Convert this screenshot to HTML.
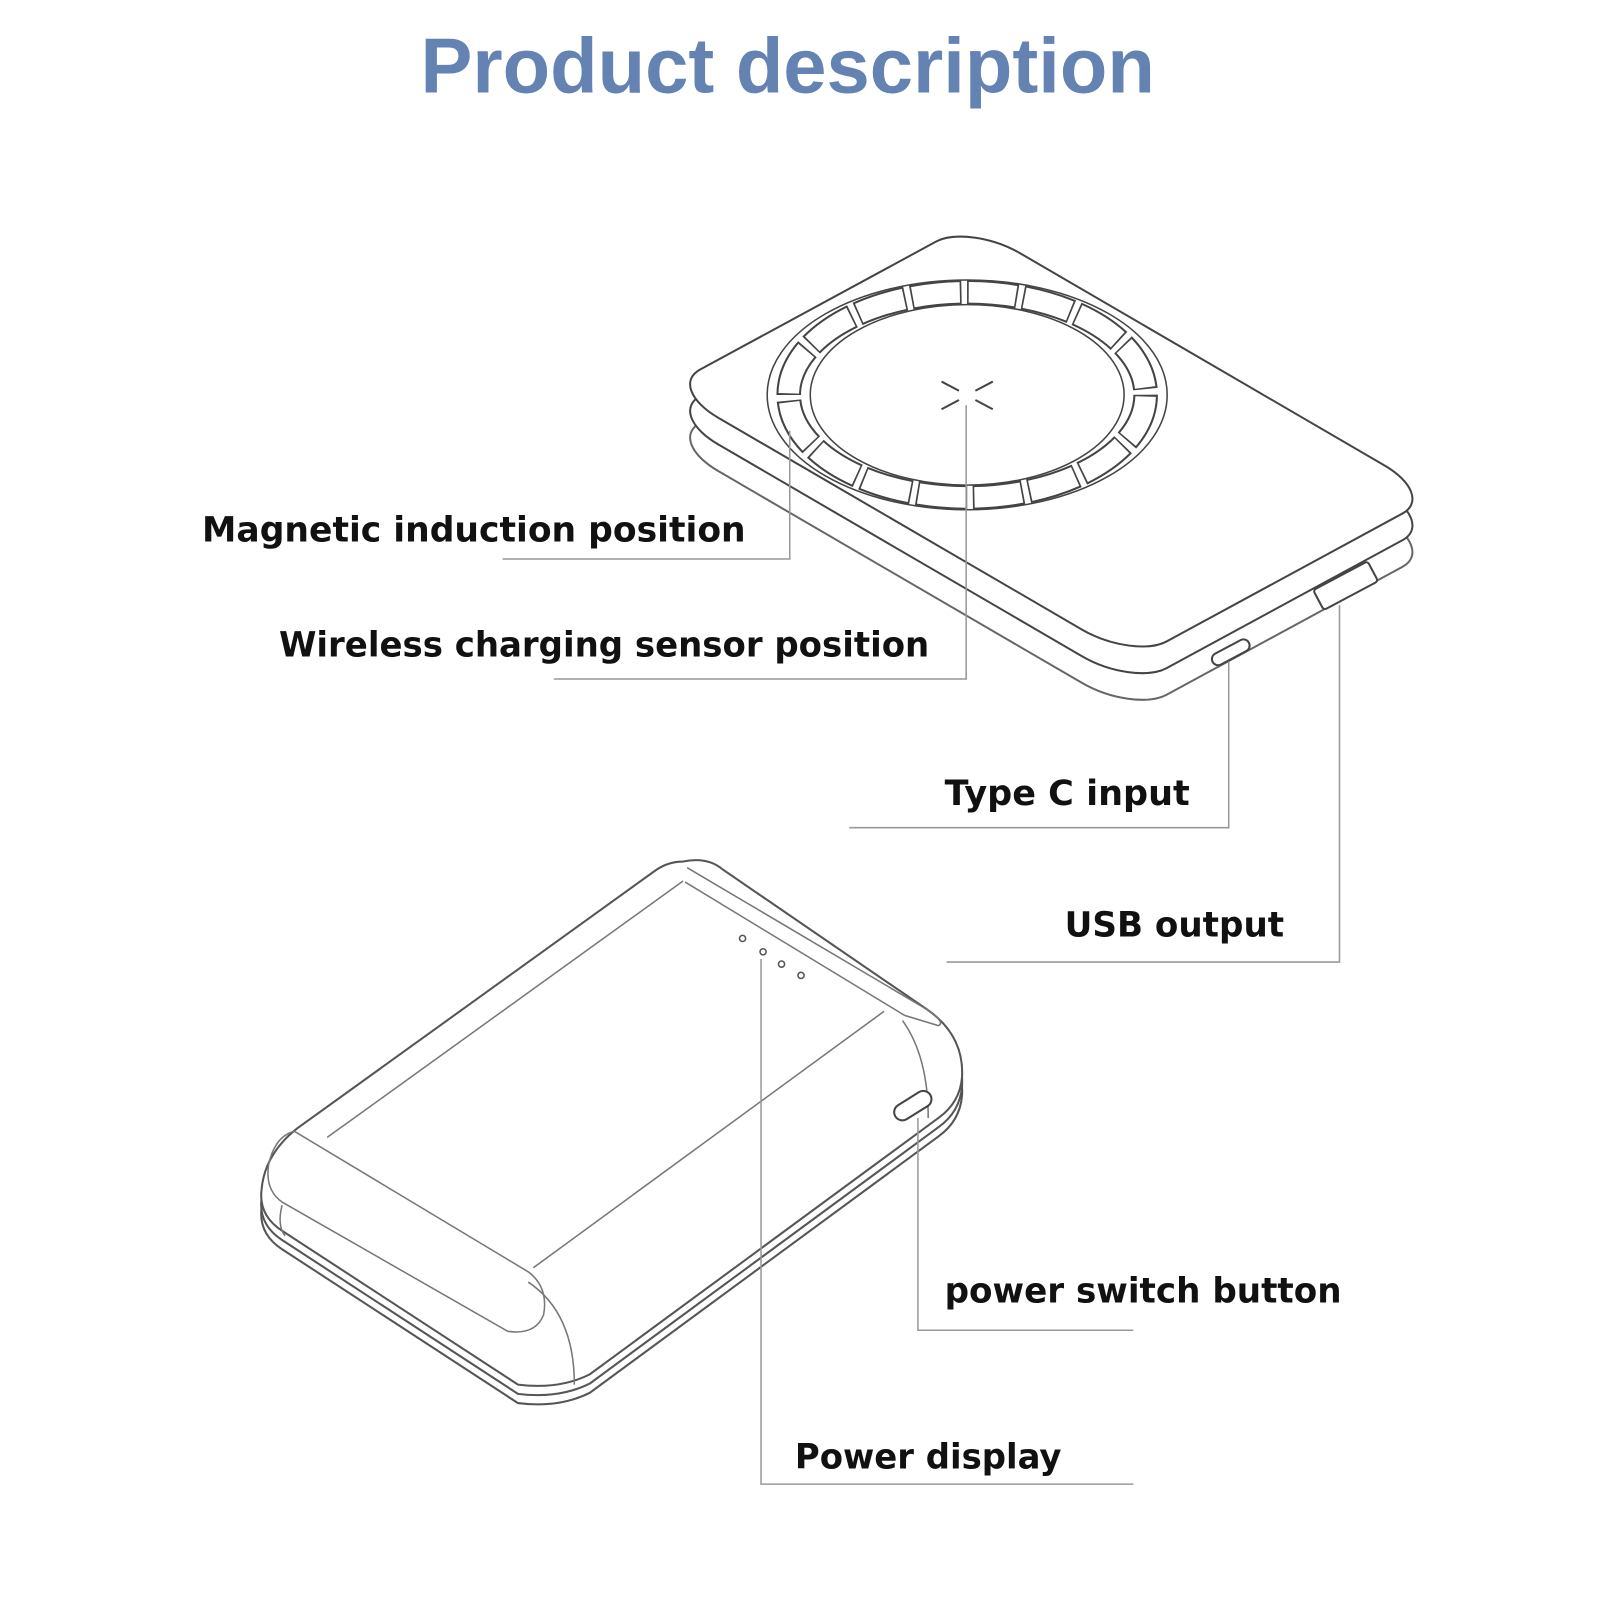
<!DOCTYPE html>
<html><head><meta charset="utf-8"><style>
html,body{margin:0;padding:0;background:#fff;}
svg{display:block;}
.l{font-family:"DejaVu Sans","Liberation Sans",sans-serif;font-size:34px;fill:#111;font-weight:bold;}
</style></head><body>
<svg width="1600" height="1600" viewBox="0 0 1560 1560" xmlns="http://www.w3.org/2000/svg">
<text x="768" y="90" text-anchor="middle" font-family="Liberation Sans, sans-serif" font-weight="bold" font-size="76" fill="#6482b2" textLength="716" lengthAdjust="spacingAndGlyphs">Product description</text>

<!-- device 1 -->
<g fill="#fff" stroke="#444" stroke-width="2">
<rect x="0" y="0" width="100" height="100" rx="11" vector-effect="non-scaling-stroke" transform="matrix(4.55,2.65,2.95,-1.6,650,430)" stroke="#666"/>
<rect x="0" y="0" width="100" height="100" rx="11" vector-effect="non-scaling-stroke" transform="matrix(4.55,2.65,2.95,-1.6,650,404)"/>
<rect x="0" y="0" width="100" height="100" rx="11" vector-effect="non-scaling-stroke" transform="matrix(4.55,2.65,2.95,-1.6,650,378)"/>
</g>
<ellipse cx="943" cy="385" rx="174" ry="100" fill="none" stroke="#444" stroke-width="24" pathLength="160" stroke-dasharray="9 1"/>
<ellipse cx="943" cy="385" rx="174" ry="100" fill="none" stroke="#fff" stroke-width="20" pathLength="160" stroke-dasharray="8.4 1.6" stroke-dashoffset="-0.3"/>
<ellipse cx="943" cy="385" rx="195" ry="112" fill="none" stroke="#444" stroke-width="1.5"/>
<ellipse cx="943" cy="385" rx="153" ry="88" fill="#fff" stroke="#444" stroke-width="1.5"/>
<g stroke="#444" stroke-width="2"><line x1="918" y1="372" x2="935" y2="381"/><line x1="968" y1="372" x2="951" y2="381"/><line x1="918" y1="399" x2="935" y2="390"/><line x1="968" y1="399" x2="951" y2="390"/></g>
<rect x="1180" y="630" width="40" height="12" rx="6" fill="#fff" stroke="#444" stroke-width="2" transform="rotate(-28 1200 636)"/>
<rect x="1282" y="560" width="60" height="22" rx="3" fill="#fff" stroke="#444" stroke-width="2" transform="rotate(-28 1312 571)"/>

<!-- device 2 -->
<g fill="#fff" stroke="#555" stroke-width="2">
<path transform="translate(0,18)" d="M666,840 Q690,835 705,848 L905,985 Q940,1010 938,1050 Q936,1075 915,1090 L575,1340 Q545,1355 505,1350 L275,1200 Q252,1185 255,1160 Q258,1125 290,1100 L640,848 Q652,840 666,840 Z"/>
<path transform="translate(0,9)" d="M666,840 Q690,835 705,848 L905,985 Q940,1010 938,1050 Q936,1075 915,1090 L575,1340 Q545,1355 505,1350 L275,1200 Q252,1185 255,1160 Q258,1125 290,1100 L640,848 Q652,840 666,840 Z"/>
<path d="M666,840 Q690,835 705,848 L905,985 Q940,1010 938,1050 Q936,1075 915,1090 L575,1340 Q545,1355 505,1350 L275,1200 Q252,1185 255,1160 Q258,1125 290,1100 L640,848 Q652,840 666,840 Z"/>
</g>
<g fill="none" stroke="#777" stroke-width="1.5">
<line x1="319" y1="1109" x2="666" y2="859"/>
<line x1="520" y1="1236" x2="862" y2="986"/>
<path d="M287,1103 L515,1240 Q535,1255 530,1282 Q522,1302 495,1298 L275,1172 Q258,1160 262,1135 Q268,1108 287,1103 Z"/>
<path d="M670,846 L905,985 Q922,997 915,1000 L882,990 L668,860"/>
<path d="M275,1175 Q270,1195 278,1205"/>
<path d="M515,1250 Q560,1280 560,1350"/>
<path d="M880,995 Q905,1030 905,1090"/>
</g>
<g fill="#fff" stroke="#555" stroke-width="1.5"><circle cx="724" cy="915" r="3"/><circle cx="744" cy="928" r="3"/><circle cx="762" cy="940" r="3"/><circle cx="781" cy="951" r="3"/></g>
<rect x="870" y="1070" width="40" height="16" rx="8" fill="#fff" stroke="#444" stroke-width="2" transform="rotate(-32 890 1078)"/>

<!-- leader lines -->
<g fill="none" stroke="#999" stroke-width="1.5">
<polyline points="490,545 770,545 770,420"/>
<polyline points="540,662 942,662 942,395"/>
<polyline points="828,807 1198,807 1198,645"/>
<polyline points="923,938 1306,938 1306,590"/>
<polyline points="1105,1297 895,1297 895,1090"/>
<polyline points="1105,1447 742,1447 742,935"/>
</g>
<text class="l" x="197" y="528" textLength="530" lengthAdjust="spacingAndGlyphs">Magnetic induction position</text>
<text class="l" x="272" y="640" textLength="634" lengthAdjust="spacingAndGlyphs">Wireless charging sensor position</text>
<text class="l" x="921" y="785" textLength="239" lengthAdjust="spacingAndGlyphs">Type C input</text>
<text class="l" x="1038" y="913" textLength="214" lengthAdjust="spacingAndGlyphs">USB output</text>
<text class="l" x="921" y="1270" textLength="387" lengthAdjust="spacingAndGlyphs">power switch button</text>
<text class="l" x="775" y="1432" textLength="260" lengthAdjust="spacingAndGlyphs">Power display</text>
</svg>
</body></html>
